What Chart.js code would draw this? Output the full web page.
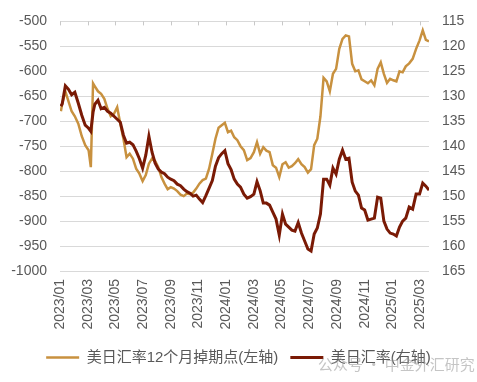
<!DOCTYPE html>
<html>
<head>
<meta charset="utf-8">
<script src="https://cdn.jsdelivr.net/npm/chart.js@4/dist/chart.umd.min.js"></script>
<style>
  html, body { margin: 0; padding: 0; background: #ffffff; }
  #wrap { width: 477px; height: 382px; }
</style>
</head>
<body>
<div id="wrap"><canvas id="c" width="477" height="382"></canvas></div>
<script>
const seriesNames = ['美日汇率12个月掉期点(左轴)', '美日汇率(右轴)'];

const dates = [
  '2023-01-03','2023-01-06','2023-01-13','2023-01-20','2023-01-27',
  '2023-02-03','2023-02-10','2023-02-17','2023-02-24',
  '2023-03-03','2023-03-08','2023-03-13','2023-03-17','2023-03-24','2023-03-31',
  '2023-04-07','2023-04-14','2023-04-21','2023-04-28',
  '2023-05-05','2023-05-12','2023-05-19','2023-05-26',
  '2023-06-02','2023-06-09','2023-06-16','2023-06-23','2023-06-30',
  '2023-07-07','2023-07-14','2023-07-21','2023-07-28',
  '2023-08-04','2023-08-11','2023-08-18','2023-08-25',
  '2023-09-01','2023-09-08','2023-09-15','2023-09-22','2023-09-29',
  '2023-10-06','2023-10-13','2023-10-20','2023-10-27',
  '2023-11-03','2023-11-10','2023-11-17','2023-11-24',
  '2023-12-01','2023-12-08','2023-12-15','2023-12-22','2023-12-29',
  '2024-01-05','2024-01-12','2024-01-19','2024-01-26',
  '2024-02-02','2024-02-09','2024-02-16','2024-02-23',
  '2024-03-01','2024-03-08','2024-03-15','2024-03-22','2024-03-29',
  '2024-04-05','2024-04-12','2024-04-19','2024-04-26',
  '2024-05-03','2024-05-10','2024-05-17','2024-05-24','2024-05-31',
  '2024-06-07','2024-06-14','2024-06-21','2024-06-28',
  '2024-07-05','2024-07-12','2024-07-19','2024-07-26',
  '2024-08-02','2024-08-09','2024-08-16','2024-08-23','2024-08-30',
  '2024-09-06','2024-09-13','2024-09-20','2024-09-27',
  '2024-10-04','2024-10-11','2024-10-18','2024-10-25',
  '2024-11-01','2024-11-08','2024-11-15','2024-11-22','2024-11-29',
  '2024-12-06','2024-12-13','2024-12-20','2024-12-27',
  '2025-01-03','2025-01-10','2025-01-17','2025-01-24','2025-01-31',
  '2025-02-07','2025-02-14','2025-02-21','2025-02-28',
  '2025-03-07','2025-03-14','2025-03-21'
];

const fwdPoints12m = [
  -680,-665,-640,-660,-680,
  -690,-705,-730,-748,
  -758,-792,-624,-630,-640,-645,
  -655,-675,-690,-685,
  -672,-705,-735,-772,
  -765,-775,-795,-805,-820,
  -808,-785,-775,-780,
  -792,-812,-825,-836,
  -832,-835,-840,-847,-850,
  -845,-846,-843,-835,
  -825,-818,-815,-795,
  -765,-735,-713,-708,-703,
  -722,-719,-732,-738,
  -750,-758,-778,-774,
  -762,-742,-765,-752,-759,
  -762,-788,-793,-812,
  -786,-782,-793,-790,-784,
  -776,-786,-792,-803,
  -796,-748,-735,-690,
  -613,-620,-640,-605,-595,
  -555,-535,-528,-530,
  -585,-600,-598,-616,
  -620,-624,-618,-628,-595,
  -582,-605,-623,-615,
  -618,-620,-600,-602,-590,
  -584,-575,-555,-538,
  -518,-537,-540
];

const usdjpy = [
  132.0,131.5,127.9,128.6,129.7,
  129.2,131.4,133.8,135.8,
  136.4,137.0,133.2,131.6,130.8,132.5,
  132.2,133.0,133.4,134.0,
  134.6,135.2,137.8,139.4,
  139.2,139.7,141.0,142.5,144.4,
  141.8,138.0,141.2,143.4,
  144.6,145.2,145.5,146.2,
  146.6,146.9,147.6,147.9,148.6,
  149.1,149.4,150.0,149.8,
  150.6,151.3,149.9,148.4,
  146.9,144.0,142.3,141.5,140.9,
  143.5,144.7,146.6,147.6,
  148.2,149.6,150.4,150.1,
  149.6,147.1,148.9,151.4,151.4,
  151.8,153.2,154.6,157.8,
  153.6,155.6,156.2,156.8,157.0,
  155.3,157.4,159.0,160.6,
  161.0,157.6,156.4,153.6,
  146.6,146.6,147.8,144.4,145.6,
  142.6,140.8,142.6,142.4,
  147.2,149.0,149.8,152.4,
  152.8,154.8,154.6,154.4,150.2,
  150.4,155.0,156.6,157.4,
  157.6,158.0,156.2,155.0,154.4,
  152.2,152.6,149.6,149.6,
  147.4,148.0,148.8
];

const baseYear = 2023;
const monthStep = 2;

function monthPos(s) {
  const [y, m, d] = s.split('-').map(Number);
  const dim = new Date(y, m, 0).getDate();
  return (y - baseYear) * 12 + (m - 1) + (d - 1) / dim;
}
function monthLabel(v) {
  const y = baseYear + Math.floor(v / 12);
  const m = (v % 12) + 1;
  return y + '/' + String(m).padStart(2, '0');
}

const xs = dates.map(monthPos);
const tickColor = '#595959';
const latin = "'Liberation Sans', Arial, 'Noto Sans CJK SC', sans-serif";
const cjk = "'Liberation Sans', 'Noto Sans CJK SC', sans-serif";

const topTicks = {
  id: 'topTicks',
  beforeDatasetsDraw(chart) {
    const s = chart.scales.x, ctx = chart.ctx, top = chart.chartArea.top;
    ctx.save();
    ctx.strokeStyle = '#c8c8c8';
    ctx.lineWidth = 1;
    s.ticks.forEach(t => {
      const px = Math.round(s.getPixelForValue(t.value)) + 0.5;
      ctx.beginPath();
      ctx.moveTo(px, top);
      ctx.lineTo(px, top + 4);
      ctx.stroke();
    });
    ctx.restore();
  }
};

const watermark = {
  id: 'watermark',
  afterDraw(chart) {
    const ctx = chart.ctx;
    ctx.save();
    ctx.fillStyle = 'rgba(150,150,150,0.55)';
    ctx.font = "15px 'Noto Sans CJK SC', sans-serif";
    ctx.textBaseline = 'middle';
    ctx.fillText('公众号 · 中金外汇研究', 318, 364);
    ctx.restore();
  }
};

new Chart(document.getElementById('c'), {
  type: 'line',
  data: {
    datasets: [
      {
        label: seriesNames[0],
        data: xs.map((x, i) => ({ x, y: fwdPoints12m[i] })),
        yAxisID: 'y',
        borderColor: '#C8913F',
        backgroundColor: '#C8913F',
        borderWidth: 2.5,
        pointRadius: 0,
        tension: 0,
        order: 1
      },
      {
        label: seriesNames[1],
        data: xs.map((x, i) => ({ x, y: usdjpy[i] })),
        yAxisID: 'y1',
        borderColor: '#7A1A05',
        backgroundColor: '#7A1A05',
        borderWidth: 3,
        pointRadius: 0,
        tension: 0,
        order: 0
      }
    ]
  },
  options: {
    responsive: false,
    animation: false,
    layout: { padding: { top: 19, bottom: 7, left: 0, right: 0 } },
    plugins: {
      tooltip: { enabled: false },
      legend: {
        position: 'bottom',
        labels: {
          usePointStyle: true,
          pointStyle: 'line',
          pointStyleWidth: 33,
          padding: 12,
          color: tickColor,
          font: { size: 15, family: cjk },
          sort: (a, b) => a.datasetIndex - b.datasetIndex
        }
      }
    },
    scales: {
      x: {
        type: 'linear',
        min: 0,
        max: xs[xs.length - 1],
        grid: { display: false, drawTicks: false },
        border: { display: false },
        afterBuildTicks: s => {
          const t = [];
          for (let v = 0; v <= s.max; v += monthStep) t.push({ value: v });
          s.ticks = t;
        },
        afterFit: s => { s.height = 67; },
        ticks: {
          stepSize: monthStep,
          autoSkip: false,
          minRotation: 90,
          maxRotation: 90,
          padding: 8,
          color: tickColor,
          font: { size: 14, family: latin },
          callback: v => monthLabel(v)
        }
      },
      y: {
        position: 'left',
        min: -1000,
        max: -500,
        grid: { color: '#d9d9d9', lineWidth: 1, drawTicks: false },
        border: { display: false },
        afterFit: s => { s.width = 60; },
        ticks: { stepSize: 50, padding: 13, color: tickColor, font: { size: 14, family: latin }, callback: v => String(v) }
      },
      y1: {
        position: 'right',
        reverse: true,
        min: 115,
        max: 165,
        grid: { display: false, drawOnChartArea: false, drawTicks: false },
        border: { display: false },
        afterFit: s => { s.width = 48; },
        ticks: { stepSize: 5, padding: 13, color: tickColor, font: { size: 14, family: latin }, callback: v => String(v) }
      }
    }
  },
  plugins: [topTicks, watermark]
});
</script>
</body>
</html>
